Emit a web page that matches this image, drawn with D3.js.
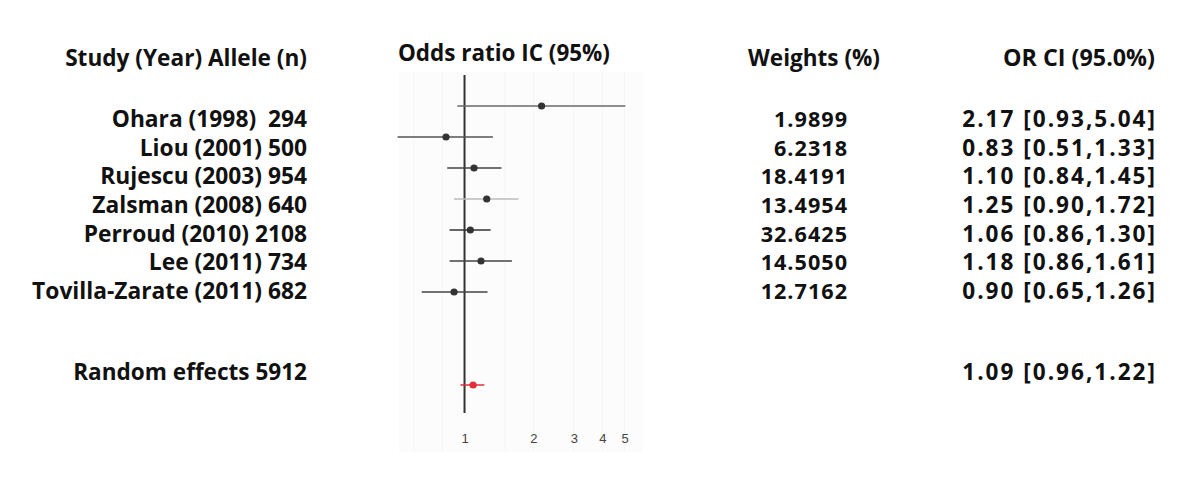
<!DOCTYPE html>
<html>
<head>
<meta charset="utf-8">
<script src="https://cdn.jsdelivr.net/npm/d3@7"></script>
<style>
  body { margin: 0; background: #fff; }
  text.lab { font-family: "Open Sans", "Noto Sans", sans-serif; font-weight: 700; fill: #111; }
</style>
</head>
<body>
<script>
// Study data
var studies = ["Ohara (1998)  294", "Liou (2001) 500", "Rujescu (2003) 954",
               "Zalsman (2008) 640", "Perroud (2010) 2108", "Lee (2011) 734",
               "Tovilla-Zarate (2011) 682"];
var orValues = [2.17, 0.83, 1.10, 1.25, 1.06, 1.18, 0.90];
var ciLow    = [0.93, 0.51, 0.84, 0.90, 0.86, 0.86, 0.65];
var ciHigh   = [5.04, 1.33, 1.45, 1.72, 1.30, 1.61, 1.26];
var weights  = ["1.9899", "6.2318", "18.4191", "13.4954", "32.6425", "14.5050", "12.7162"];
var lineColors = ["#6a6a6a", "#555", "#444", "#bdbdbd", "#333", "#444", "#444"];

// Pooled estimate
var pooledLabel = "Random effects 5912";
var pooled = {or: 1.09, lo: 0.96, hi: 1.22};

var tickValues = [1, 2, 3, 4, 5];

var w = 1200, h = 481;

var svg = d3.select("body")
            .append("svg")
            .attr("width", w)
            .attr("height", h);

// scales
var x = d3.scaleLog().domain([0.5, 5]).range([395.6, 624.6]);
var y = d3.scaleLinear().domain([0, 9]).range([106, 385]);   // plot rows
var ty = d3.scaleLinear().domain([0, 6]).range([127, 299]);  // text rows
var pooledTextY = 380;

// very light panel behind the plot
svg.append("rect")
   .attr("x", 399).attr("y", 72)
   .attr("width", 243).attr("height", 380)
   .style("fill", "#fcfcfc");

var grid = [0.6, 0.8, 1.5, 2, 3, 4, 5];
svg.selectAll("line.grid")
   .data(grid)
   .enter()
   .append("line")
   .attr("class", "grid")
   .attr("x1", function(d) { return x(d); })
   .attr("x2", function(d) { return x(d); })
   .attr("y1", 72).attr("y2", 452)
   .style("stroke", "#f6f6f6")
   .style("stroke-width", 1);

// vertical reference line at OR = 1
svg.append("line")
   .attr("x1", x(1)).attr("x2", x(1))
   .attr("y1", 75).attr("y2", 413)
   .style("stroke", "#333")
   .style("stroke-width", 2);

var rows = studies.map(function(s, i) {
    return {name: s, or: orValues[i], lo: ciLow[i], hi: ciHigh[i],
            weight: weights[i], color: lineColors[i], idx: i};
});

// confidence intervals
svg.selectAll("line.ci")
   .data(rows)
   .enter()
   .append("line")
   .attr("class", "ci")
   .attr("x1", function(d) { return x(d.lo); })
   .attr("x2", function(d) { return x(d.hi); })
   .attr("y1", function(d) { return y(d.idx); })
   .attr("y2", function(d) { return y(d.idx); })
   .style("stroke", function(d) { return d.color; })
   .style("stroke-width", 1.5);

svg.selectAll("circle.pt")
   .data(rows)
   .enter()
   .append("circle")
   .attr("class", "pt")
   .attr("cx", function(d) { return x(d.or); })
   .attr("cy", function(d) { return y(d.idx); })
   .attr("r", 3.6)
   .style("fill", "#333");

// pooled estimate in red
svg.append("line")
   .attr("x1", x(pooled.lo)).attr("x2", x(pooled.hi))
   .attr("y1", y(9)).attr("y2", y(9))
   .style("stroke", "#e0303a")
   .style("stroke-width", 1.5);
svg.append("circle")
   .attr("cx", x(pooled.or)).attr("cy", y(9))
   .attr("r", 3.6)
   .style("fill", "#e0303a");

// x axis labels
var axis = d3.axisBottom(x)
             .tickValues(tickValues)
             .tickFormat(d3.format("d"))
             .tickSize(0);
var ax = svg.append("g")
            .attr("transform", "translate(0,430)")
            .call(axis);
ax.select(".domain").remove();
ax.selectAll("text")
  .attr("dy", 0)
  .attr("y", 13)
  .style("font-family", "Liberation Sans, Arial, sans-serif")
  .style("font-size", "13px")
  .style("fill", "#444");

// scale a group of texts so the widest one gets the wanted width
function fit(sel, target) {
    var base = 20, widest = 0;
    sel.style("font-size", base + "px");
    sel.each(function() {
        widest = Math.max(widest, this.getComputedTextLength());
    });
    sel.style("font-size", (base * target / widest) + "px");
}

// column headers
function header(txt, xx, yy, anchor, target) {
    var t = svg.append("text")
       .attr("class", "lab")
       .attr("x", xx).attr("y", yy)
       .style("text-anchor", anchor)
       .text(txt);
    fit(t, target);
}
header("Study (Year) Allele (n)", 307, 66, "end", 242);
header("Odds ratio IC (95%)", 398, 61, "start", 212);
header("Weights (%)", 880, 66, "end", 132);
header("OR CI (95.0%)", 1155, 66, "end", 152);

var f2 = d3.format(".2f");
function orText(o, l, u) { return f2(o) + " [" + f2(l) + "," + f2(u) + "]"; }

var names = svg.selectAll("text.name")
   .data(rows)
   .enter()
   .append("text")
   .attr("class", "lab name")
   .attr("x", 307)
   .attr("y", function(d) { return ty(d.idx); })
   .style("text-anchor", "end")
   .style("white-space", "pre")
   .text(function(d) { return d.name; });
fit(names, 275);

var wts = svg.selectAll("text.wt")
   .data(rows)
   .enter()
   .append("text")
   .attr("class", "lab wt")
   .attr("x", 848)
   .attr("y", function(d) { return ty(d.idx); })
   .style("text-anchor", "end")
   .style("letter-spacing", "1px")
   .text(function(d) { return d.weight; });
fit(wts, 88);

var ors = svg.selectAll("text.ort")
   .data(rows.concat([{or: pooled.or, lo: pooled.lo, hi: pooled.hi, idx: -1}]))
   .enter()
   .append("text")
   .attr("class", "lab ort")
   .attr("x", 1157)
   .attr("y", function(d) { return d.idx < 0 ? pooledTextY : ty(d.idx); })
   .style("text-anchor", "end")
   .style("letter-spacing", "2px")
   .text(function(d) { return orText(d.or, d.lo, d.hi); });
fit(ors, 199);

var pl = svg.append("text")
   .attr("class", "lab")
   .attr("x", 307).attr("y", pooledTextY)
   .style("text-anchor", "end")
   .text(pooledLabel);
fit(pl, 234);
</script>
</body>
</html>
